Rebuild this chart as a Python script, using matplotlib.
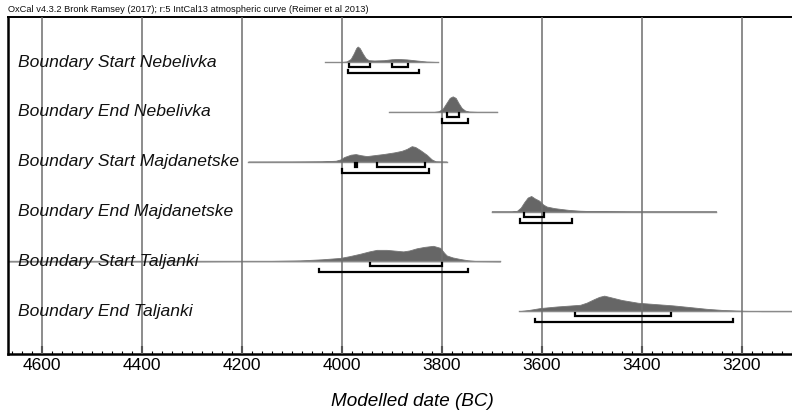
import matplotlib
matplotlib.use("Agg")
import matplotlib.pyplot as plt
from matplotlib.ticker import MultipleLocator

plt.rcParams['font.family'] = ['Liberation Sans', 'DejaVu Sans']

title = "OxCal v4.3.2 Bronk Ramsey (2017); r:5 IntCal13 atmospheric curve (Reimer et al 2013)"
xlabel = "Modelled date (BC)"

labels = [
    "Boundary Start Nebelivka",
    "Boundary End Nebelivka",
    "Boundary Start Majdanetske",
    "Boundary End Majdanetske",
    "Boundary Start Taljanki",
    "Boundary End Taljanki",
]

# Probability curves (year BC, relative density)
start_neb_years = [4033, 4000, 3990, 3982, 3976, 3971, 3968, 3964, 3958, 3952, 3946, 3935, 3915, 3900, 3887, 3870, 3850, 3830, 3807]
start_neb_dens = [0, 0.0, 0.04, 0.2, 0.55, 0.9, 1.0, 0.9, 0.55, 0.25, 0.12, 0.1, 0.12, 0.18, 0.2, 0.17, 0.1, 0.03, 0]

end_neb_years = [3905, 3815, 3806, 3798, 3791, 3784, 3778, 3772, 3766, 3760, 3753, 3745, 3730, 3689]
end_neb_dens = [0, 0.0, 0.04, 0.2, 0.55, 0.9, 1.0, 0.9, 0.55, 0.25, 0.08, 0.02, 0.0, 0]

start_maj_years = [4187, 4100, 4040, 4012, 4003, 3995, 3982, 3972, 3962, 3950, 3935, 3915, 3895, 3880, 3870, 3860, 3853, 3843, 3830, 3820, 3812, 3790]
start_maj_dens = [0, 0.005, 0.02, 0.06, 0.14, 0.3, 0.45, 0.49, 0.42, 0.36, 0.42, 0.5, 0.6, 0.7, 0.82, 1.0, 0.95, 0.75, 0.45, 0.15, 0.02, 0]

end_maj_years = [3700, 3660, 3650, 3642, 3635, 3628, 3621, 3614, 3605, 3597, 3590, 3575, 3563, 3545, 3523, 3490, 3420, 3251]
end_maj_dens = [0, 0.0, 0.03, 0.25, 0.6, 0.9, 1.0, 0.85, 0.7, 0.45, 0.32, 0.22, 0.17, 0.1, 0.05, 0.015, 0.0, 0]

start_tal_years = [4667, 4300, 4150, 4083, 4040, 4003, 3985, 3963, 3945, 3930, 3910, 3890, 3877, 3865, 3850, 3835, 3817, 3803, 3795, 3790, 3778, 3763, 3748, 3730, 3683]
start_tal_dens = [0, 0.003, 0.02, 0.06, 0.13, 0.22, 0.33, 0.49, 0.64, 0.74, 0.74, 0.68, 0.64, 0.7, 0.84, 0.93, 1.0, 0.87, 0.55, 0.38, 0.25, 0.15, 0.07, 0.015, 0]

end_tal_years = [3645, 3625, 3603, 3570, 3540, 3523, 3510, 3495, 3485, 3475, 3460, 3440, 3407, 3370, 3337, 3300, 3270, 3240, 3218, 3195, 3160, 3099]
end_tal_dens = [0, 0.08, 0.2, 0.3, 0.37, 0.41, 0.55, 0.78, 0.92, 1.0, 0.88, 0.72, 0.54, 0.45, 0.37, 0.25, 0.15, 0.08, 0.05, 0.02, 0.0, 0]

curve_years = [start_neb_years, end_neb_years, start_maj_years, end_maj_years, start_tal_years, end_tal_years]
curve_dens = [start_neb_dens, end_neb_dens, start_maj_dens, end_maj_dens, start_tal_dens, end_tal_dens]

# Highest posterior density ranges
hpd68 = [
    [(3985, 3943), (3899, 3867)],
    [(3789, 3765)],
    [(3974, 3970), (3930, 3833)],
    [(3635, 3595)],
    [(3943, 3799)],
    [(3534, 3341)],
]
hpd95 = [
    [(3987, 3845)],
    [(3800, 3747)],
    [(4000, 3825)],
    [(3643, 3539)],
    [(4045, 3748)],
    [(3613, 3218)],
]

major_ticks = [4600, 4400, 4200, 4000, 3800, 3600, 3400, 3200]

fig = plt.figure(figsize=(7.92, 4.12), dpi=100)
ax = fig.add_axes([8/792, 1 - 354/412, 1 - 8/792, (354 - 17)/412])

ax.set_xlim(4667.4, 3099.4)
ax.set_ylim(5.86, -0.904)

row_px = 49.8
peak = 15.5 / row_px
off68 = 5.0 / row_px
off95 = 11.0 / row_px
tick_h = 3.5 / row_px

for gx in major_ticks:
    ax.axvline(gx, color='#6e6e6e', lw=1.1, zorder=3)

for i, (yrs, dens) in enumerate(zip(curve_years, curve_dens)):
    top = [i - d * peak for d in dens]
    ax.fill_between(yrs, [i] * len(yrs), top, color='#666666', lw=0.6,
                    edgecolor='#777777', zorder=2)
    ax.plot([yrs[0], yrs[-1]], [i, i], color='#8a8a8a', lw=1.0, zorder=2.5)
    for (a, b) in hpd68[i]:
        y = i + off68
        ax.plot([a, a, b, b], [y - tick_h, y, y, y - tick_h], color='black',
                lw=1.6, solid_joinstyle='miter', zorder=4)
    for (a, b) in hpd95[i]:
        y = i + off95
        ax.plot([a, a, b, b], [y - tick_h, y, y, y - tick_h], color='black',
                lw=1.6, solid_joinstyle='miter', zorder=4)
    ax.text(4647, i, labels[i], fontsize=12.6, style='italic', va='center',
            ha='left', color='#111111', zorder=5)

ax.set_yticks([])
ax.set_xticks(major_ticks)
ax.set_xticklabels([str(t) for t in major_ticks], fontsize=12.5)
ax.xaxis.set_minor_locator(MultipleLocator(20))
ax.tick_params(axis='x', which='major', direction='in', length=6, width=1.5, pad=3, color='black')
ax.tick_params(axis='x', which='minor', direction='in', length=2.5, width=0.8, color='black')
ax.set_xlabel(xlabel, fontsize=13.6, style='italic')
ax.xaxis.label.set_va('center')
ax.xaxis.set_label_coords((412.5 - 8) / 784, -(401.5 - 354) / 337)

ax.spines['right'].set_visible(False)
ax.spines['left'].set_linewidth(1.8)
ax.spines['bottom'].set_linewidth(1.8)
ax.spines['top'].set_linewidth(1.4)

fig.text(8/792, 1 - 9/412, title, fontsize=6.7, va='center', ha='left', color='#111111')

fig.savefig("out.png", dpi=100)
